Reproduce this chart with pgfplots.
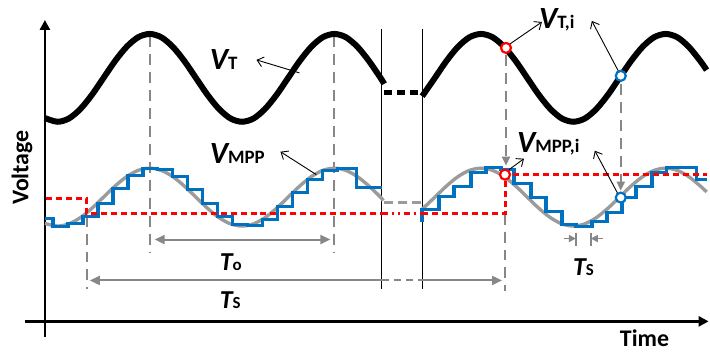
\documentclass[border=0pt]{standalone}
\usepackage{fontspec}
\setmainfont{Carlito}
\usepackage{pgfplots}
\pgfplotsset{compat=1.18}
\usetikzlibrary{arrows.meta}
\definecolor{mblue}{RGB}{0,112,192}
\definecolor{mgray}{RGB}{155,155,155}
\definecolor{dgray}{RGB}{135,135,135}
\definecolor{mred}{RGB}{255,0,0}
\newcommand{\Vlab}[1]{{\fontsize{31}{31}\selectfont\bfseries\itshape V\fontsize{19}{19}\selectfont\upshape #1}}
\newcommand{\Tlab}[1]{{\fontsize{26}{26}\selectfont\bfseries\itshape T\fontsize{17}{17}\selectfont\upshape #1}}
\begin{document}
\begin{tikzpicture}
\begin{axis}[x=1bp, y=1bp, xmin=0, xmax=710, ymin=0, ymax=352, y dir=reverse,
  hide axis, clip=false, scale only axis]
\addplot[draw=none] coordinates {(0,0) (710,352)};
% axes
\addplot[black, line width=2.8bp, -{Triangle[length=10bp,width=10bp]}] coordinates {(45,338) (45,20)};
\addplot[black, line width=2.8bp, -{Triangle[length=10bp,width=10bp]}] coordinates {(25,322) (710,322)};
% break lines
\addplot[black, line width=1bp] coordinates {(382,29) (382,290)};
\addplot[black, line width=1bp] coordinates {(423,29) (423,290)};
% gray dashed verticals
\addplot[dgray, line width=2bp, dash pattern=on 11bp off 7bp] coordinates {(87,216) (87,290)};
\addplot[dgray, line width=2bp, dash pattern=on 11bp off 7bp] coordinates {(150,36) (150,253)};
\addplot[dgray, line width=2bp, dash pattern=on 11bp off 7bp] coordinates {(335,36) (335,253)};
\addplot[dgray, line width=2bp, dash pattern=on 11bp off 7bp] coordinates {(506,214) (506,292)};
\addplot[dgray, line width=2bp, dash pattern=on 11bp off 7bp, -{Triangle[length=9bp,width=8bp]}] coordinates {(507,55) (507,166)};
\addplot[dgray, line width=2bp, dash pattern=on 11bp off 7bp, -{Triangle[length=9bp,width=8bp]}] coordinates {(622,84) (622,191)};
% top curve VT
\addplot[black, line width=6bp, smooth] coordinates {
(45,118.3) (57.5,122) (69.06,118.7) (80.63,109.1) (92.19,94.9) (103.75,78) (115.31,61.1) (126.88,46.9) (138.44,37.3)
(150,34) (161.56,37.3) (173.13,46.9) (184.69,61.1) (196.25,78) (207.81,94.9) (219.38,109.1) (230.94,118.7)
(242.5,122) (254.06,118.7) (265.63,109.1) (277.19,94.9) (288.75,78) (300.31,61.1) (311.88,46.9) (323.44,37.3)
(335,34) (346.56,37.3) (358.13,46.9) (369.69,61.1) (381.25,78) (385,84)};
\addplot[black, line width=6bp, smooth] coordinates {
(423,96.4) (435.75,78) (447.31,61.1) (458.88,46.9) (470.44,37.3) (482,34) (493.56,37.3) (505.13,46.9)
(516.69,61.1) (528.25,78) (539.81,94.9) (551.38,109.1) (562.94,118.7) (574.5,122) (586.06,118.7)
(597.63,109.1) (609.19,94.9) (620.75,78) (632.31,61.1) (643.88,46.9) (655.44,37.3) (667,34)
(678.56,37.3) (690.13,46.9) (701.69,61.1) (708,70.2)};
\addplot[black, line width=5bp, dash pattern=on 8bp off 5bp] coordinates {(385,93) (423,93)};
% gray VMPP
\addplot[mgray, line width=3.4bp, smooth] coordinates {
(45,223.9) (57.5,226.5) (69.06,224.3) (80.63,218.0) (92.19,208.6) (103.75,197.5) (115.31,186.4) (126.88,177.0)
(138.44,170.7) (150,168.5) (161.56,170.7) (173.13,177.0) (184.69,186.4) (196.25,197.5) (207.81,208.6)
(219.38,218.0) (230.94,224.3) (242.5,226.5) (254.06,224.3) (265.63,218.0) (277.19,208.6) (288.75,197.5)
(300.31,186.4) (311.88,177.0) (323.44,170.7) (335,168.5) (346.56,170.7) (358.13,177.0) (369.69,186.4)
(381.25,197.5) (384,201)};
\addplot[mgray, line width=3.4bp, smooth] coordinates {
(423,209.7) (435.75,197.5) (447.31,186.4) (458.88,177.0) (470.44,170.7) (482,168.5) (493.56,170.7)
(505.13,177.0) (516.69,186.4) (528.25,197.5) (539.81,208.6) (551.38,218.0) (562.94,224.3) (574.5,226.5)
(586.06,224.3) (597.63,218.0) (609.19,208.6) (620.75,197.5) (632.31,186.4) (643.88,177.0) (655.44,170.7)
(667,168.5) (678.56,170.7) (690.13,177.0) (701.69,186.4) (708,192.3)};
\addplot[mgray, line width=3.6bp, dash pattern=on 9bp off 5bp] coordinates {(385,203) (423,203)};
% blue staircase
\addplot[mblue, line width=3.6bp, const plot] coordinates {
(45,219) (53,227) (68,224) (83,217) (98,204) (113,189) (128,176) (143,169) (158,170) (173,177) (188,190)
(203,204) (218,217) (233,225) (248,226) (263,220) (278,207) (293,193) (308,180) (323,171) (338,169)
(357,188) (383,188)};
\addplot[mblue, line width=3.6bp, const plot] coordinates {
(423,222) (423,210) (440,197) (455,187) (472,173) (487,168) (502,170) (515,184) (532,198) (547,212)
(563,225) (577,227) (593,222) (608,213) (623,198) (637,187) (653,173) (668,168) (698,180) (708,180)};
% red dashed
\addplot[mred, line width=3bp, dash pattern=on 6bp off 4bp] coordinates {(46,199) (87,199) (87,214) (383,214)};
\addplot[mred, line width=3bp, dash pattern=on 6bp off 4bp on 2bp off 4bp on 2bp off 4bp] coordinates {(383,214) (423,214)};
\addplot[mred, line width=3bp, dash pattern=on 6bp off 4bp] coordinates {(423,214) (506,214) (506,175) (708,175)};
% arrows T
\addplot[dgray, line width=2bp, {Triangle[length=10bp,width=9bp]}-{Triangle[length=10bp,width=9bp]}] coordinates {(155,240) (331,240)};
\addplot[dgray, line width=2bp, {Triangle[length=10bp,width=9bp]}-] coordinates {(90,281) (383,281)};
\addplot[dgray, line width=2bp, dash pattern=on 7bp off 5bp] coordinates {(383,281) (423,281)};
\addplot[dgray, line width=2bp, -{Triangle[length=10bp,width=9bp]}] coordinates {(423,281) (503,281)};
\addplot[dgray, line width=1.8bp] coordinates {(577,233) (577,246)};
\addplot[dgray, line width=1.8bp] coordinates {(592,233) (592,246)};
\addplot[dgray, line width=1.8bp, -{Triangle[length=7bp,width=7bp]}] coordinates {(565,239) (577,239)};
\addplot[dgray, line width=1.8bp, -{Triangle[length=7bp,width=7bp]}] coordinates {(604,239) (592,239)};
% leader arrows
\addplot[black, line width=0.9bp, -{Straight Barb[length=6bp,width=10bp]}] coordinates {(300,73) (257,60)};
\addplot[black, line width=0.9bp, -{Straight Barb[length=6bp,width=10bp]}] coordinates {(317,175) (281,152)};
\addplot[black, line width=0.9bp, -{Straight Barb[length=6bp,width=10bp]}] coordinates {(511,44) (543,22)};
\addplot[black, line width=0.9bp, -{Straight Barb[length=6bp,width=10bp]}] coordinates {(620,72) (593,21)};
\addplot[black, line width=0.9bp, -{Straight Barb[length=6bp,width=10bp]}] coordinates {(510,170) (525,159)};
\addplot[black, line width=0.9bp, -{Straight Barb[length=6bp,width=10bp]}] coordinates {(619,194) (596,151)};
% circles
\addplot[only marks, mark=*, mark size=5bp, mark options={fill=white, draw=mred, line width=2.2bp}] coordinates {(507,48) (506,175)};
\addplot[only marks, mark=*, mark size=5bp, mark options={fill=white, draw=mblue, line width=2.2bp}] coordinates {(622,76) (622,198)};
% labels
\node[anchor=base west, inner sep=0] at (axis cs:210,70) {\Vlab{T}};
\node[anchor=base west, inner sep=0] at (axis cs:210,164) {\Vlab{MPP}};
\node[anchor=base west, inner sep=0] at (axis cs:540,29) {\Vlab{T,i}};
\node[anchor=base west, inner sep=0] at (axis cs:518,153) {\Vlab{MPP,i}};
\node[anchor=base west, inner sep=0] at (axis cs:220,271) {\Tlab{o}};
\node[anchor=base west, inner sep=0] at (axis cs:220,309) {\Tlab{S}};
\node[anchor=base west, inner sep=0] at (axis cs:574,276) {\Tlab{S}};
\node[rotate=90, inner sep=0] at (axis cs:22,168) {\fontsize{24}{24}\selectfont\bfseries Voltage};
\node[anchor=base west, inner sep=0] at (axis cs:621,347) {\fontsize{24}{24}\selectfont\bfseries Time};
\end{axis}
\end{tikzpicture}
\end{document}
